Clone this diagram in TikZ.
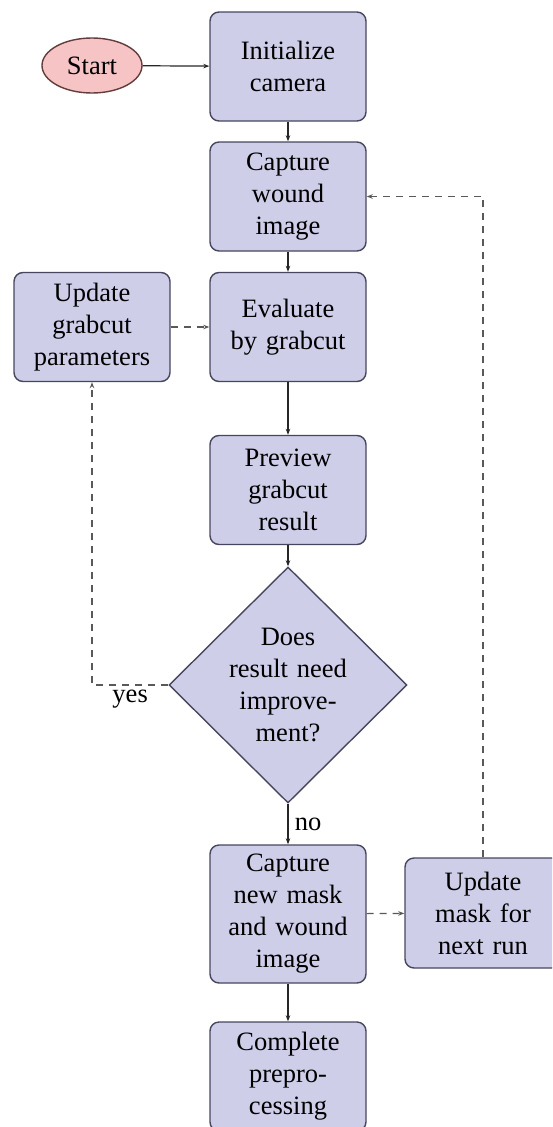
\documentclass[tikz,border=0pt]{standalone}
\usepackage{fontspec}
\setmainfont{Liberation Serif}
\usetikzlibrary{shapes.geometric,arrows.meta}
\definecolor{boxfill}{RGB}{206,206,233}
\definecolor{boxline}{RGB}{70,70,95}
\definecolor{startfill}{RGB}{246,196,196}
\definecolor{startline}{RGB}{100,60,60}
\begin{document}
\begin{tikzpicture}[x=1pt,y=-1pt,
  every node/.style={font=\rmfamily\fontsize{26.5}{32}\selectfont},
  procbox/.style={draw=boxline,fill=boxfill,line width=1.4pt,rounded corners=9pt,
    minimum width=156pt,minimum height=109pt,text width=150pt,align=center,inner sep=0pt},
  startbox/.style={draw=startline,fill=startfill,line width=1.4pt,ellipse,
    minimum width=100pt,minimum height=55pt,inner sep=0pt},
  decbox/.style={draw=boxline,fill=boxfill,line width=1.4pt,diamond,
    text width=118pt,align=center,inner sep=-2pt,minimum width=238pt,minimum height=236pt},
  flow/.style={draw=black!85,line width=1.2pt,-{Stealth[length=6pt,width=4.5pt]}},
  back/.style={flow,draw=black!65,dash pattern=on 7pt off 6pt}]
\useasboundingbox (0,0) rectangle (552,1127);
\clip (0,0) rectangle (552,1127);
% main column
\node[startbox] (start) at (92,65.5) {Start};
\node[procbox] (init) at (288,66.5) {Initialize\\camera};
\node[procbox] (capture) at (288,196.5) {Capture\\wound\\image};
\node[procbox] (evaluate) at (288,327) {Evaluate\\by grabcut};
\node[procbox] (updgrab) at (92,327) {Update\\grabcut\\parameters};
\node[procbox] (preview) at (288,490) {Preview\\grabcut\\result};
\node[decbox] (decide) at (288,685) {Does\\result need\\improve-\\ment?};
\node[procbox,minimum height=138pt] (capnew) at (288,914) {Capture\\new mask\\and wound\\image};
\node[procbox,minimum height=110pt] (updmask) at (483,913) {Update\\mask for\\next run};
\node[procbox] (complete) at (288,1076.5) {Complete\\prepro-\\cessing};
% connectors
\draw[flow] (start) -- (init);
\draw[flow] (init) -- (capture);
\draw[flow] (capture) -- (evaluate);
\draw[flow] (evaluate) -- (preview);
\draw[flow] (preview) -- (decide);
\draw[flow] (decide) -- node[right,xshift=3pt] {no} (capnew);
\draw[flow] (capnew) -- (complete);
% dashed loops
\draw[back] (updgrab) -- (evaluate);
\draw[back] (decide.west) -| node[below,pos=0.25,yshift=-1pt] {yes} (updgrab.south);
\draw[back] (capnew) -- (updmask);
\draw[back] (updmask.north) |- (capture.east);
\end{tikzpicture}
\end{document}
